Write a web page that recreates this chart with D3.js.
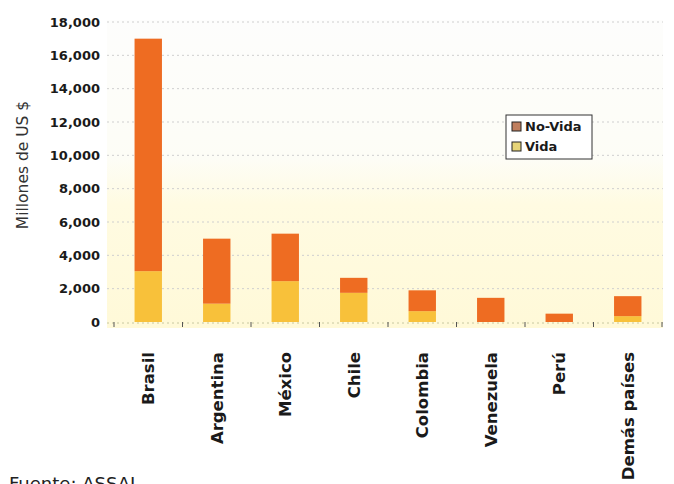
<!DOCTYPE html>
<html lang="es">
<head>
<meta charset="UTF-8">
<title>Primas por país</title>
<script src="https://cdn.jsdelivr.net/npm/d3@7"></script>
<style>
	*{ margin:0; box-sizing:border-box; }
	html,body{ width:674px; height:484px; overflow:hidden; background:#fff; }
	.yAxis path,.yAxis line{ stroke:none; }
	.yAxis text{ font-family:"DejaVu Sans"; font-weight:bold; font-size:13px; fill:#1a1a1a; }
	.xAxis path{ stroke:none; }
	.xAxis line{ stroke:#555; }
	.xAxis text{ font-family:"DejaVu Sans"; font-weight:bold; font-size:16.5px; fill:#1a1a1a; }
	.grid line{ stroke:#cfcfcf; stroke-dasharray:2,3; }
	.legend text{ font-family:"DejaVu Sans"; font-weight:bold; font-size:13px; fill:#1a1a1a; }
</style>
</head>
<body>
<svg id="svg"></svg>
<script>
var paises = ["Brasil", "Argentina", "México", "Chile", "Colombia", "Venezuela", "Perú", "Demás países"];
var vida = [3050, 1100, 2450, 1750, 650, 0, 0, 350];
var noVida = [13950, 3900, 2850, 900, 1250, 1450, 500, 1200];
var yTicks = [0, 2000, 4000, 6000, 8000, 10000, 12000, 14000, 16000, 18000];
var series = ["Vida", "No-Vida"];
var colores = { "Vida": "#f8c13a", "No-Vida": "#ee6c22" };
var coloresLeyenda = { "Vida": "#e6d478", "No-Vida": "#bf7e5e" };

var w = 674, h = 484;
var svg = d3.select("#svg").attr("width", w).attr("height", h);

var defs = svg.append("defs");
var grad = defs.append("linearGradient").attr("id", "fondo")
	.attr("x1", 0).attr("y1", 0).attr("x2", 0).attr("y2", 1);
grad.append("stop").attr("offset", "0%").attr("stop-color", "#fdfdfc");
grad.append("stop").attr("offset", "45%").attr("stop-color", "#fdfdf6");
grad.append("stop").attr("offset", "60%").attr("stop-color", "#fffbe2");
grad.append("stop").attr("offset", "100%").attr("stop-color", "#fff9d8");

var x = d3.scaleBand().domain(paises).range([114, 662]).paddingInner(0.6).paddingOuter(0.3);
var y = d3.scaleLinear().domain([0, 18000]).range([322, 22]);

svg.append("rect").attr("x", 107).attr("y", 20).attr("width", 556).attr("height", 308)
	.attr("fill", "url(#fondo)");

svg.append("g").attr("class", "grid")
	.selectAll("line").data(yTicks.slice(1)).enter().append("line")
	.attr("x1", 107).attr("x2", 663)
	.attr("y1", function(d) { return y(d); }).attr("y2", function(d) { return y(d); });
svg.append("line").attr("x1", 107).attr("x2", 663).attr("y1", y(0) + 1).attr("y2", y(0) + 1)
	.attr("stroke", "#c8c8a0").attr("stroke-dasharray", "2,3");

var tabla = paises.map(function(p, i) {
	return { pais: p, "Vida": vida[i], "No-Vida": noVida[i] };
});
var stack = d3.stack().keys(series)(tabla);

svg.append("g").selectAll("g").data(stack).enter().append("g")
	.attr("fill", function(d) { return colores[d.key]; })
	.selectAll("rect").data(function(d) { return d; }).enter().append("rect")
	.attr("x", function(d) { return x(d.data.pais); })
	.attr("width", x.bandwidth())
	.attr("y", function(d) { return y(d[1]); })
	.attr("height", function(d) { return y(d[0]) - y(d[1]); });

svg.append("g").attr("class", "yAxis")
	.attr("transform", "translate(107,0)")
	.call(d3.axisLeft(y).tickValues(yTicks).tickFormat(d3.format(",")).tickSize(0).tickPadding(7));

// ticks at band boundaries
var bordes = paises.map(function(p) { return x(p) - x.step() * x.paddingInner() / 2; });
bordes.push(662);
svg.append("g").attr("class", "xAxis").selectAll("line").data(bordes).enter().append("line")
	.attr("x1", function(d) { return d; }).attr("x2", function(d) { return d; })
	.attr("y1", 322).attr("y2", 327).attr("stroke", "#555");

svg.append("g").attr("class", "xAxis").selectAll("text").data(paises).enter().append("text")
	.attr("transform", function(d) { return "translate(" + (x(d) + x.bandwidth() / 2 + 6) + ",352) rotate(-90)"; })
	.attr("text-anchor", "end")
	.text(function(d) { return d; });

svg.append("text")
	.attr("transform", "translate(28,165) rotate(-90)")
	.attr("text-anchor", "middle")
	.style("font-family", "DejaVu Sans").style("font-size", "15.5px").style("fill", "#333")
	.text("Millones de US $");

svg.append("text").attr("x", 9).attr("y", 490)
	.style("font-family", "DejaVu Sans").style("font-size", "18px").style("fill", "#222")
	.text("Fuente: ASSAL");

var leg = svg.append("g").attr("class", "legend").attr("transform", "translate(506,115)");
leg.append("rect").attr("width", 86).attr("height", 44).attr("fill", "#fff")
	.attr("stroke", "#333").attr("stroke-width", 1);
var items = leg.selectAll("g").data(["No-Vida", "Vida"]).enter().append("g")
	.attr("transform", function(d, i) { return "translate(6," + (7 + i * 20) + ")"; });
items.append("rect").attr("width", 9).attr("height", 9)
	.attr("fill", function(d) { return coloresLeyenda[d]; }).attr("stroke", "#222");
items.append("text").attr("x", 13).attr("y", 9).text(function(d) { return d; });
</script>
</body>
</html>
